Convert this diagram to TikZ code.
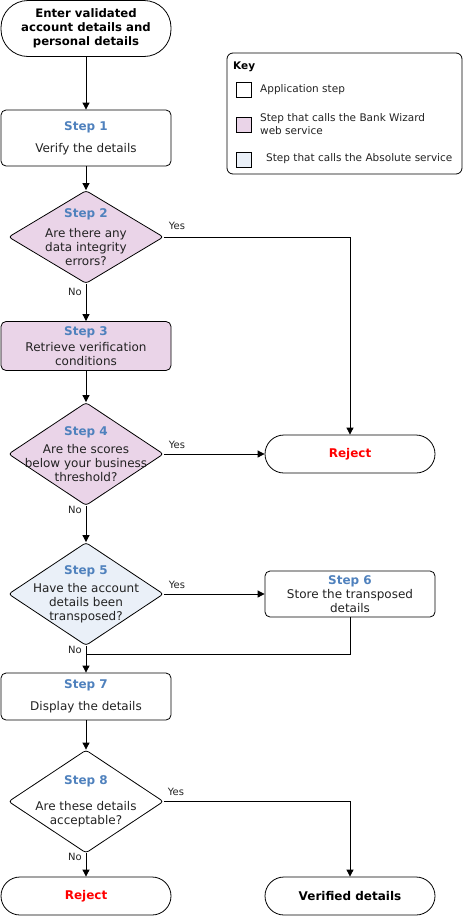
\documentclass[tikz,border=0pt]{standalone}
\usepackage{fontspec}
\setmainfont{DejaVu Sans}
\usetikzlibrary{arrows.meta,shapes.geometric}

\definecolor{stepblue}{RGB}{79,129,189}
\definecolor{wizpink}{RGB}{234,212,232}
\definecolor{abspale}{RGB}{234,240,248}
\definecolor{txtgray}{RGB}{34,34,34}
\newcommand{\stp}[1]{{\color{stepblue}\bfseries Step #1}}

\tikzset{
  base/.style={draw, line width=0.8pt, text=txtgray, align=center, inner sep=2pt,
    font=\fontsize{12}{14}\selectfont},
  termbox/.style={base, rounded corners=19pt, minimum width=170pt, minimum height=38pt},
  stepbox/.style={base, rounded corners=5pt, minimum width=170pt},
  decision/.style={draw, line width=0.8pt, diamond, rounded corners=3pt, inner sep=0pt,
    minimum width=155pt},
  dtext/.style={text=txtgray, align=center, font=\fontsize{12}{14}\selectfont},
  flow/.style={line width=0.8pt, -{Triangle[length=7pt,width=7pt]}},
  link/.style={line width=0.8pt},
  yn/.style={text=txtgray, font=\fontsize{10}{12}\selectfont},
  keysq/.style={draw, line width=0.8pt, minimum size=15pt, inner sep=0pt},
  keytxt/.style={text=txtgray, anchor=west, align=left, inner sep=0pt,
    font=\fontsize{10.5}{13}\selectfont},
}

\begin{document}
\begin{tikzpicture}[x=1pt,y=-1pt]
    \useasboundingbox (0,0) rectangle (464,916);

    \node[termbox, minimum height=56pt, rounded corners=27pt, text=black,
      font=\fontsize{11.7}{14}\selectfont\bfseries] (start) at (86,28.5)
      {Enter validated\\account details and\\personal details};
    \node[stepbox, minimum height=56pt] (s1) at (86,138) {\stp{1}\\[8pt]Verify the details};
    \node[decision, minimum height=93pt, fill=wizpink,
      label={[dtext]center:{\stp{2}\\[6pt]Are there any\\data integrity\\errors?}}] (d2) at (86,237) {};
    \node[stepbox, minimum height=49pt, fill=wizpink] (s3) at (86,346)
      {\stp{3}\\[2pt]Retrieve verification\\conditions};
    \node[decision, minimum height=103pt, fill=wizpink,
      label={[dtext]center:{\stp{4}\\[4pt]Are the scores\\below your business\\threshold?}}] (d4) at (86,454) {};
    \node[termbox, font=\fontsize{12}{14}\selectfont\bfseries, text=red] (rj1) at (350,454) {Reject};
    \node[decision, minimum height=103pt, fill=abspale,
      label={[dtext]center:{\stp{5}\\[4pt]Have the account\\details been\\transposed?}}] (d5) at (86,594) {};
    \node[stepbox, minimum height=46pt] (s6) at (350,594) {\stp{6}\\Store the transposed\\details};
    \node[stepbox, minimum height=47pt] (s7) at (86,696.5) {\stp{7}\\[8pt]Display the details};
    \node[decision, minimum height=103pt,
      label={[dtext]center:{\stp{8}\\[12pt]Are these details\\acceptable?}}] (d8) at (86,801.5) {};
    \node[termbox, font=\fontsize{12}{14}\selectfont\bfseries, text=red] (rj2) at (86,896) {Reject};
    \node[termbox, font=\fontsize{12}{14}\selectfont\bfseries, text=black] (ver) at (350,896) {Verified details};
    \coordinate (j7) at (86,654);

    \draw[flow] (start) -- (s1);
    \draw[flow] (s1) -- (d2);
    \draw[flow] (d2.east) -| (rj1.north);
    \draw[flow] (d2) -- (s3);
    \draw[flow] (s3) -- (d4);
    \draw[flow] (d4.east) -- (rj1.west);
    \draw[flow] (d4) -- (d5);
    \draw[flow] (d5.east) -- (s6.west);
    \draw[flow] (d5) -- (s7);
    \draw[link] (s6.south) |- (j7);
    \draw[flow] (s7) -- (d8);
    \draw[flow] (d8.east) -| (ver.north);
    \draw[flow] (d8) -- (rj2);

    \node[yn] (y2) at (177,226) {Yes};
    \node[yn] (n2) at (75,292) {No};
    \node[yn] (y4) at (177,445) {Yes};
    \node[yn] (n4) at (75,510) {No};
    \node[yn] (y5) at (177,585) {Yes};
    \node[yn] (n5) at (75,650) {No};
    \node[yn] (y8) at (176,792) {Yes};
    \node[yn] (n8) at (75,857) {No};

    \node[draw, line width=0.8pt, rounded corners=6pt, minimum width=235pt, minimum height=121pt] (key) at (344.5,113.5) {};
    \node[keytxt, font=\fontsize{10.5}{13}\selectfont\bfseries, text=black] (keyh) at (233,67) {Key};
    \node[keysq] (k1) at (244,90) {};
    \node[keysq, fill=wizpink] (k2) at (244,125) {};
    \node[keysq, fill=abspale] (k3) at (244,160) {};
    \node[keytxt] (t1) at (260,90) {Application step};
    \node[keytxt] (t2) at (260,124) {Step that calls the Bank Wizard\\web service};
    \node[keytxt] (t3) at (266,159) {Step that calls the Absolute service};
\end{tikzpicture}
\end{document}
